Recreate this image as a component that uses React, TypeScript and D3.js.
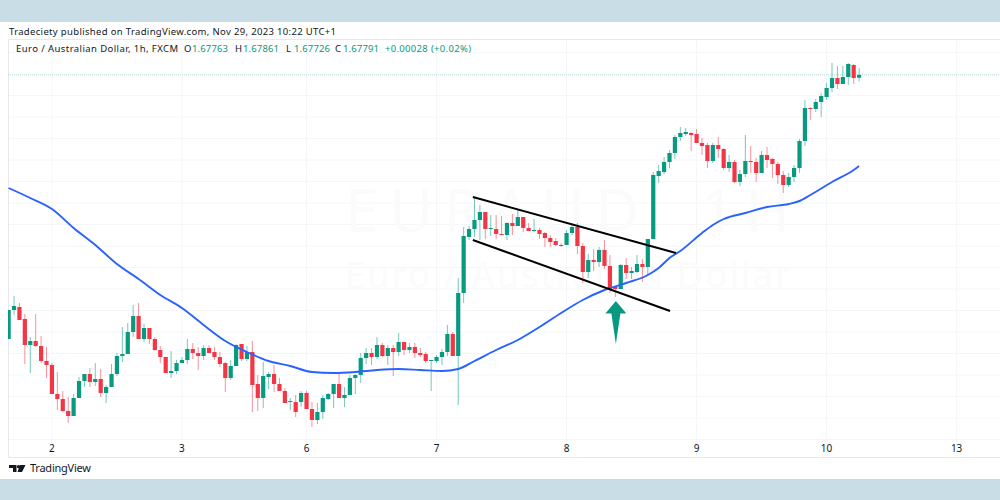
import React, { useRef, useEffect } from 'react';
import * as d3 from 'd3';

const opens = [1.6515,1.6544,1.6547,1.6535,1.6509,1.6513,1.6508,1.6493,1.6489,1.6460,1.6455,1.6443,1.6438,1.6456,1.6473,1.6480,1.6472,1.6475,1.6461,1.6467,1.6480,1.6498,1.6500,1.6522,1.6538,1.6515,1.6526,1.6515,1.6504,1.6497,1.6481,1.6483,1.6491,1.6494,1.6505,1.6501,1.6498,1.6506,1.6502,1.6497,1.6491,1.6476,1.6488,1.6510,1.6495,1.6502,1.6470,1.6456,1.6477,1.6480,1.6470,1.6463,1.6452,1.6452,1.6452,1.6461,1.6445,1.6434,1.6442,1.6455,1.6460,1.6470,1.6456,1.6459,1.6476,1.6479,1.6496,1.6501,1.6497,1.6509,1.6498,1.6506,1.6502,1.6512,1.6504,1.6507,1.6501,1.6500,1.6493,1.6493,1.6497,1.6502,1.6520,1.6498,1.6561,1.6617,1.6625,1.6634,1.6642,1.6625,1.6625,1.6620,1.6619,1.6631,1.6628,1.6637,1.6626,1.6623,1.6624,1.6621,1.6616,1.6613,1.6609,1.6609,1.6621,1.6627,1.6608,1.6582,1.6594,1.6592,1.6604,1.6588,1.6567,1.6565,1.6589,1.6581,1.6582,1.6590,1.6587,1.6615,1.6678,1.6682,1.6692,1.6701,1.6717,1.6720,1.6721,1.6720,1.6711,1.6709,1.6693,1.6709,1.6705,1.6686,1.6692,1.6672,1.6680,1.6693,1.6692,1.6681,1.6699,1.6695,1.6690,1.6679,1.6669,1.6677,1.6686,1.6713,1.6746,1.6745,1.6752,1.6757,1.6766,1.6776,1.6770,1.6777,1.6789,1.67763];
const highs = [1.6544,1.6558,1.6551,1.6540,1.6517,1.6540,1.6518,1.6507,1.6491,1.6482,1.6463,1.6457,1.6460,1.6477,1.6480,1.6486,1.6491,1.6485,1.6469,1.6490,1.6501,1.6527,1.6531,1.6549,1.6551,1.6530,1.6526,1.6517,1.6508,1.6497,1.6503,1.6494,1.6497,1.6515,1.6511,1.6507,1.6509,1.6509,1.6507,1.6502,1.6492,1.6494,1.6510,1.6510,1.6508,1.6513,1.6479,1.6492,1.6482,1.6489,1.6476,1.6466,1.6456,1.6459,1.6463,1.6463,1.6452,1.6451,1.6459,1.6461,1.6470,1.6480,1.6467,1.6479,1.6480,1.6501,1.6506,1.6506,1.6517,1.6511,1.6509,1.6509,1.6521,1.6512,1.6511,1.6511,1.6506,1.6502,1.6494,1.6499,1.6505,1.6529,1.6522,1.6576,1.6627,1.6628,1.6657,1.6649,1.6642,1.6639,1.6639,1.6638,1.6632,1.6640,1.6645,1.6637,1.6631,1.6635,1.6626,1.6622,1.6619,1.6616,1.6611,1.6624,1.6631,1.6631,1.6611,1.6600,1.6605,1.6607,1.6614,1.6599,1.6567,1.6590,1.6596,1.6587,1.6599,1.6595,1.6615,1.6682,1.6689,1.6697,1.6704,1.6719,1.6727,1.6726,1.6722,1.6725,1.6716,1.6711,1.6711,1.6717,1.6706,1.6699,1.6694,1.6684,1.6719,1.6708,1.6696,1.6703,1.6707,1.6696,1.6692,1.6683,1.6681,1.6689,1.6715,1.6754,1.6747,1.6755,1.6761,1.6771,1.6791,1.6788,1.6788,1.6791,1.6790,1.67861];
const lows = [1.6515,1.6539,1.6534,1.6490,1.6481,1.6507,1.6491,1.6476,1.6460,1.6444,1.6442,1.6431,1.6438,1.6456,1.6467,1.6467,1.6468,1.6457,1.6451,1.6467,1.6478,1.6492,1.6500,1.6517,1.6515,1.6512,1.6510,1.6503,1.6491,1.6481,1.6476,1.6480,1.6491,1.6490,1.6495,1.6484,1.6494,1.6501,1.6494,1.6487,1.6462,1.6474,1.6488,1.6493,1.6493,1.6442,1.6443,1.6446,1.6465,1.6462,1.6463,1.6451,1.6444,1.6437,1.6447,1.6445,1.6427,1.6430,1.6435,1.6454,1.6446,1.6456,1.6447,1.6459,1.6460,1.6471,1.6490,1.6489,1.6495,1.6497,1.6489,1.6478,1.6498,1.6499,1.6501,1.6496,1.6497,1.6491,1.6463,1.6491,1.6489,1.6498,1.6498,1.6449,1.6551,1.6614,1.6617,1.6614,1.6615,1.6618,1.6615,1.6619,1.6614,1.6619,1.6628,1.6622,1.6623,1.6622,1.6615,1.6607,1.6607,1.6608,1.6607,1.6609,1.6619,1.6600,1.6571,1.6576,1.6583,1.6587,1.6585,1.6561,1.6557,1.6565,1.6575,1.6575,1.6581,1.6572,1.6579,1.6615,1.6671,1.6680,1.6686,1.6695,1.6713,1.6718,1.6703,1.6711,1.6699,1.6686,1.6691,1.6696,1.6684,1.6682,1.6671,1.6668,1.6677,1.6681,1.6672,1.6681,1.6686,1.6676,1.6670,1.6661,1.6667,1.6672,1.6681,1.6708,1.6734,1.6742,1.6737,1.6754,1.6762,1.6765,1.6770,1.6769,1.6770,1.67726];
const closes = [1.6544,1.6548,1.6534,1.6509,1.6513,1.6508,1.6493,1.6489,1.6460,1.6455,1.6443,1.6438,1.6456,1.6473,1.6480,1.6472,1.6475,1.6461,1.6467,1.6480,1.6498,1.6500,1.6522,1.6538,1.6515,1.6526,1.6515,1.6504,1.6497,1.6481,1.6483,1.6491,1.6494,1.6505,1.6501,1.6498,1.6506,1.6501,1.6497,1.6490,1.6476,1.6488,1.6509,1.6495,1.6502,1.6469,1.6456,1.6478,1.6480,1.6470,1.6463,1.6451,1.6453,1.6442,1.6461,1.6445,1.6434,1.6442,1.6456,1.6460,1.6470,1.6456,1.6459,1.6476,1.6479,1.6496,1.6501,1.6497,1.6509,1.6498,1.6506,1.6502,1.6512,1.6504,1.6507,1.6501,1.6499,1.6493,1.6494,1.6497,1.6502,1.6520,1.6498,1.6561,1.6618,1.6625,1.6634,1.6642,1.6625,1.6626,1.6620,1.6619,1.6631,1.6628,1.6637,1.6626,1.6623,1.6624,1.6620,1.6616,1.6612,1.6609,1.6608,1.6621,1.6627,1.6608,1.6582,1.6594,1.6592,1.6604,1.6588,1.6565,1.6565,1.6589,1.6581,1.6583,1.6590,1.6587,1.6615,1.6679,1.6683,1.6692,1.6701,1.6717,1.6721,1.6722,1.6719,1.6711,1.6708,1.6693,1.6709,1.6705,1.6686,1.6692,1.6672,1.6680,1.6693,1.6692,1.6681,1.6699,1.6694,1.6690,1.6679,1.6669,1.6677,1.6686,1.6713,1.6746,1.6745,1.6752,1.6758,1.6766,1.6776,1.6770,1.6777,1.6790,1.6776,1.67791];

const maBars = [0,4,8,12,16,20,24,28,32,36,40,44,48,52,56,60,64,68,72,76,80,83,86,90,94,98,102,106,110,114,118,120,122,124,128,130,132,136,140,144,146,148,152,156,157];
const maValues = [1.6666,1.6656,1.6645,1.6626,1.6609,1.6590,1.6575,1.6559,1.6546,1.6529,1.6513,1.6502,1.6493,1.6488,1.6482,1.6481,1.6482,1.6484,1.6485,1.6484,1.6483,1.6485,1.6493,1.6504,1.6514,1.6527,1.6541,1.6554,1.6564,1.6571,1.6579,1.6586,1.6596,1.6603,1.6621,1.6629,1.6635,1.6641,1.6647,1.6650,1.6653,1.6659,1.6672,1.6684,1.6688];

const dayLabels = ['2', '3', '6', '7', '8', '9', '10', '13'];
const dayBars = [8, 32, 55, 79, 103, 127, 151, 175];
const gridPrices = [1.68015,1.678,1.67585,1.6737,1.67155,1.6694,1.66725,1.6651,1.66295,1.6608,1.65865,1.6565,1.65435,1.6522,1.65005,1.6479,1.64575,1.6436,1.64145];

const channelUpper = [[85.7, 1.6657], [123.2, 1.6601]];
const channelLower = [[85.7, 1.6614], [122.1, 1.6543]];
const arrowBar = 112.1;
const arrowTop = 1.6553;
const arrowBottom = 1.651;

const legendValues = ['1.67763', '1.67861', '1.67726', '1.67791'];
const legendKeys = ['O', 'H', 'L', 'C'];

const UP = '#089981';
const DOWN = '#f23645';
const BLUE = '#2962ff';
const FONT = '"Noto Sans", sans-serif';

const App: React.FC = () => {
  const svgRef = useRef<SVGSVGElement | null>(null);

  useEffect(() => {
    const svg = d3.select(svgRef.current);
    svg.selectAll('*').remove();

    const x = d3.scaleLinear().domain([0, 157]).range([8.6, 859.1]);
    const y = d3.scaleLinear().domain([1.6854, 1.6354]).range([0, 500]);

    svg.append('rect').attr('width', 1000).attr('height', 500).attr('fill', '#ffffff');
    svg.append('rect').attr('width', 1000).attr('height', 22).attr('fill', '#c9dde6');
    svg.append('rect').attr('y', 479).attr('width', 1000).attr('height', 21).attr('fill', '#c9dde6');

    svg.append('defs').append('clipPath').attr('id', 'pane')
      .append('rect').attr('x', 8).attr('y', 39).attr('width', 992).attr('height', 418);

    // grid
    const grid = svg.append('g').attr('stroke', '#f4f6f9').attr('stroke-width', 1);
    grid.selectAll('line.h').data(gridPrices).enter().append('line').attr('class', 'h')
      .attr('x1', 8).attr('x2', 1000).attr('y1', d => y(d)).attr('y2', d => y(d));
    grid.selectAll('line.v').data(dayBars).enter().append('line').attr('class', 'v')
      .attr('x1', d => x(d)).attr('x2', d => x(d)).attr('y1', 39).attr('y2', 457);

    // watermark
    svg.append('text').attr('x', 345).attr('y', 232).attr('font-size', 60).attr('font-family', FONT)
      .attr('fill', '#fbfbfc').attr('textLength', 445).attr('lengthAdjust', 'spacing').text('EURAUD, 1H');
    svg.append('text').attr('x', 345).attr('y', 288).attr('font-size', 36).attr('font-family', FONT)
      .attr('fill', '#fbfbfc').attr('textLength', 445).attr('lengthAdjust', 'spacing').text('Euro / Australian Dollar');

    // pane border
    svg.append('path').attr('d', 'M1000,39.5H8.5V457.5H1000').attr('fill', 'none').attr('stroke', '#e6e8ee');

    // last price line
    svg.append('line').attr('x1', 8).attr('x2', 1000)
      .attr('y1', y(closes[closes.length - 1])).attr('y2', y(closes[closes.length - 1]))
      .attr('stroke', UP).attr('stroke-opacity', 0.3).attr('stroke-dasharray', '1 1');

    const pane = svg.append('g').attr('clip-path', 'url(#pane)');

    // candles
    const bars = pane.selectAll('g.bar').data(opens.map((o, i) => i)).enter().append('g').attr('class', 'bar');
    const color = (i: number) => (closes[i] >= opens[i] ? UP : DOWN);
    bars.append('line')
      .attr('x1', i => x(i)).attr('x2', i => x(i))
      .attr('y1', i => y(highs[i])).attr('y2', i => y(lows[i]))
      .attr('stroke', color).attr('stroke-opacity', 0.55).attr('stroke-width', 1);
    bars.append('rect')
      .attr('x', i => x(i) - 2.1).attr('width', 4.2)
      .attr('y', i => y(Math.max(opens[i], closes[i])))
      .attr('height', i => Math.max(1, Math.abs(y(opens[i]) - y(closes[i]))))
      .attr('fill', color);

    // moving average
    const maLine = d3.line<number>().x((d, i) => x(maBars[i])).y(d => y(d)).curve(d3.curveMonotoneX);
    pane.append('path').attr('d', maLine(maValues)!).attr('fill', 'none').attr('stroke', BLUE).attr('stroke-width', 1.9);

    // channel
    const channel = d3.line<number[]>().x(d => x(d[0])).y(d => y(d[1]));
    [channelUpper, channelLower].forEach(c => {
      pane.append('path').attr('d', channel(c)!).attr('fill', 'none').attr('stroke', '#000000').attr('stroke-width', 2);
    });

    // arrow
    const ax = x(arrowBar);
    const at = y(arrowTop);
    const ab = y(arrowBottom);
    pane.append('path')
      .attr('d', `M${ax},${at}L${ax + 10.5},${at + 12.5}L${ax + 4.5},${at + 12.5}L${ax},${ab}L${ax - 4.5},${at + 12.5}L${ax - 10.5},${at + 12.5}Z`)
      .attr('fill', UP);

    // day labels
    svg.selectAll('text.day').data(dayBars).enter().append('text').attr('class', 'day')
      .attr('x', d => x(d)).attr('y', 452).attr('text-anchor', 'middle')
      .attr('font-size', 10).attr('font-family', FONT).attr('fill', '#131722')
      .text((d, i) => dayLabels[i]);

    // header
    svg.append('text').attr('x', 9).attr('y', 35).attr('font-size', 9.5).attr('font-family', FONT).attr('fill', '#131722')
      .attr('textLength', 327).text('Tradeciety published on TradingView.com, Nov 29, 2023 10:22 UTC+1');

    const legendY = 52;
    svg.append('text').attr('x', 16).attr('y', legendY).attr('font-size', 9.5).attr('font-family', FONT).attr('fill', '#131722')
      .attr('textLength', 162).text('Euro / Australian Dollar, 1h, FXCM');
    const keyXs = [184, 235, 286, 335];
    legendKeys.forEach((k, i) => {
      svg.append('text').attr('x', keyXs[i]).attr('y', legendY).attr('font-size', 9.5).attr('font-family', FONT).attr('fill', '#131722').text(k);
      svg.append('text').attr('x', keyXs[i] + 8).attr('y', legendY).attr('font-size', 9.5).attr('font-family', FONT).attr('fill', UP)
        .attr('textLength', 36).text(legendValues[i]);
    });
    svg.append('text').attr('x', 385).attr('y', legendY).attr('font-size', 9.5).attr('font-family', FONT).attr('fill', UP)
      .attr('textLength', 86).text('+0.00028 (+0.02%)');

    // logo
    svg.append('path').attr('d', 'M9,465H16.5V472H13V468H9ZM20,465H25.5L22,472H17.5Z').attr('fill', '#131722');
    svg.append('circle').attr('cx', 18.5).attr('cy', 466.7).attr('r', 1.6).attr('fill', '#131722');
    svg.append('text').attr('x', 30).attr('y', 472).attr('font-size', 11).attr('font-family', FONT).attr('fill', '#131722')
      .attr('textLength', 61).text('TradingView');
  }, []);

  return <svg ref={svgRef} width={1000} height={500} style={{ position: 'absolute', left: 0, top: 0 }}></svg>;
};

export default App;
